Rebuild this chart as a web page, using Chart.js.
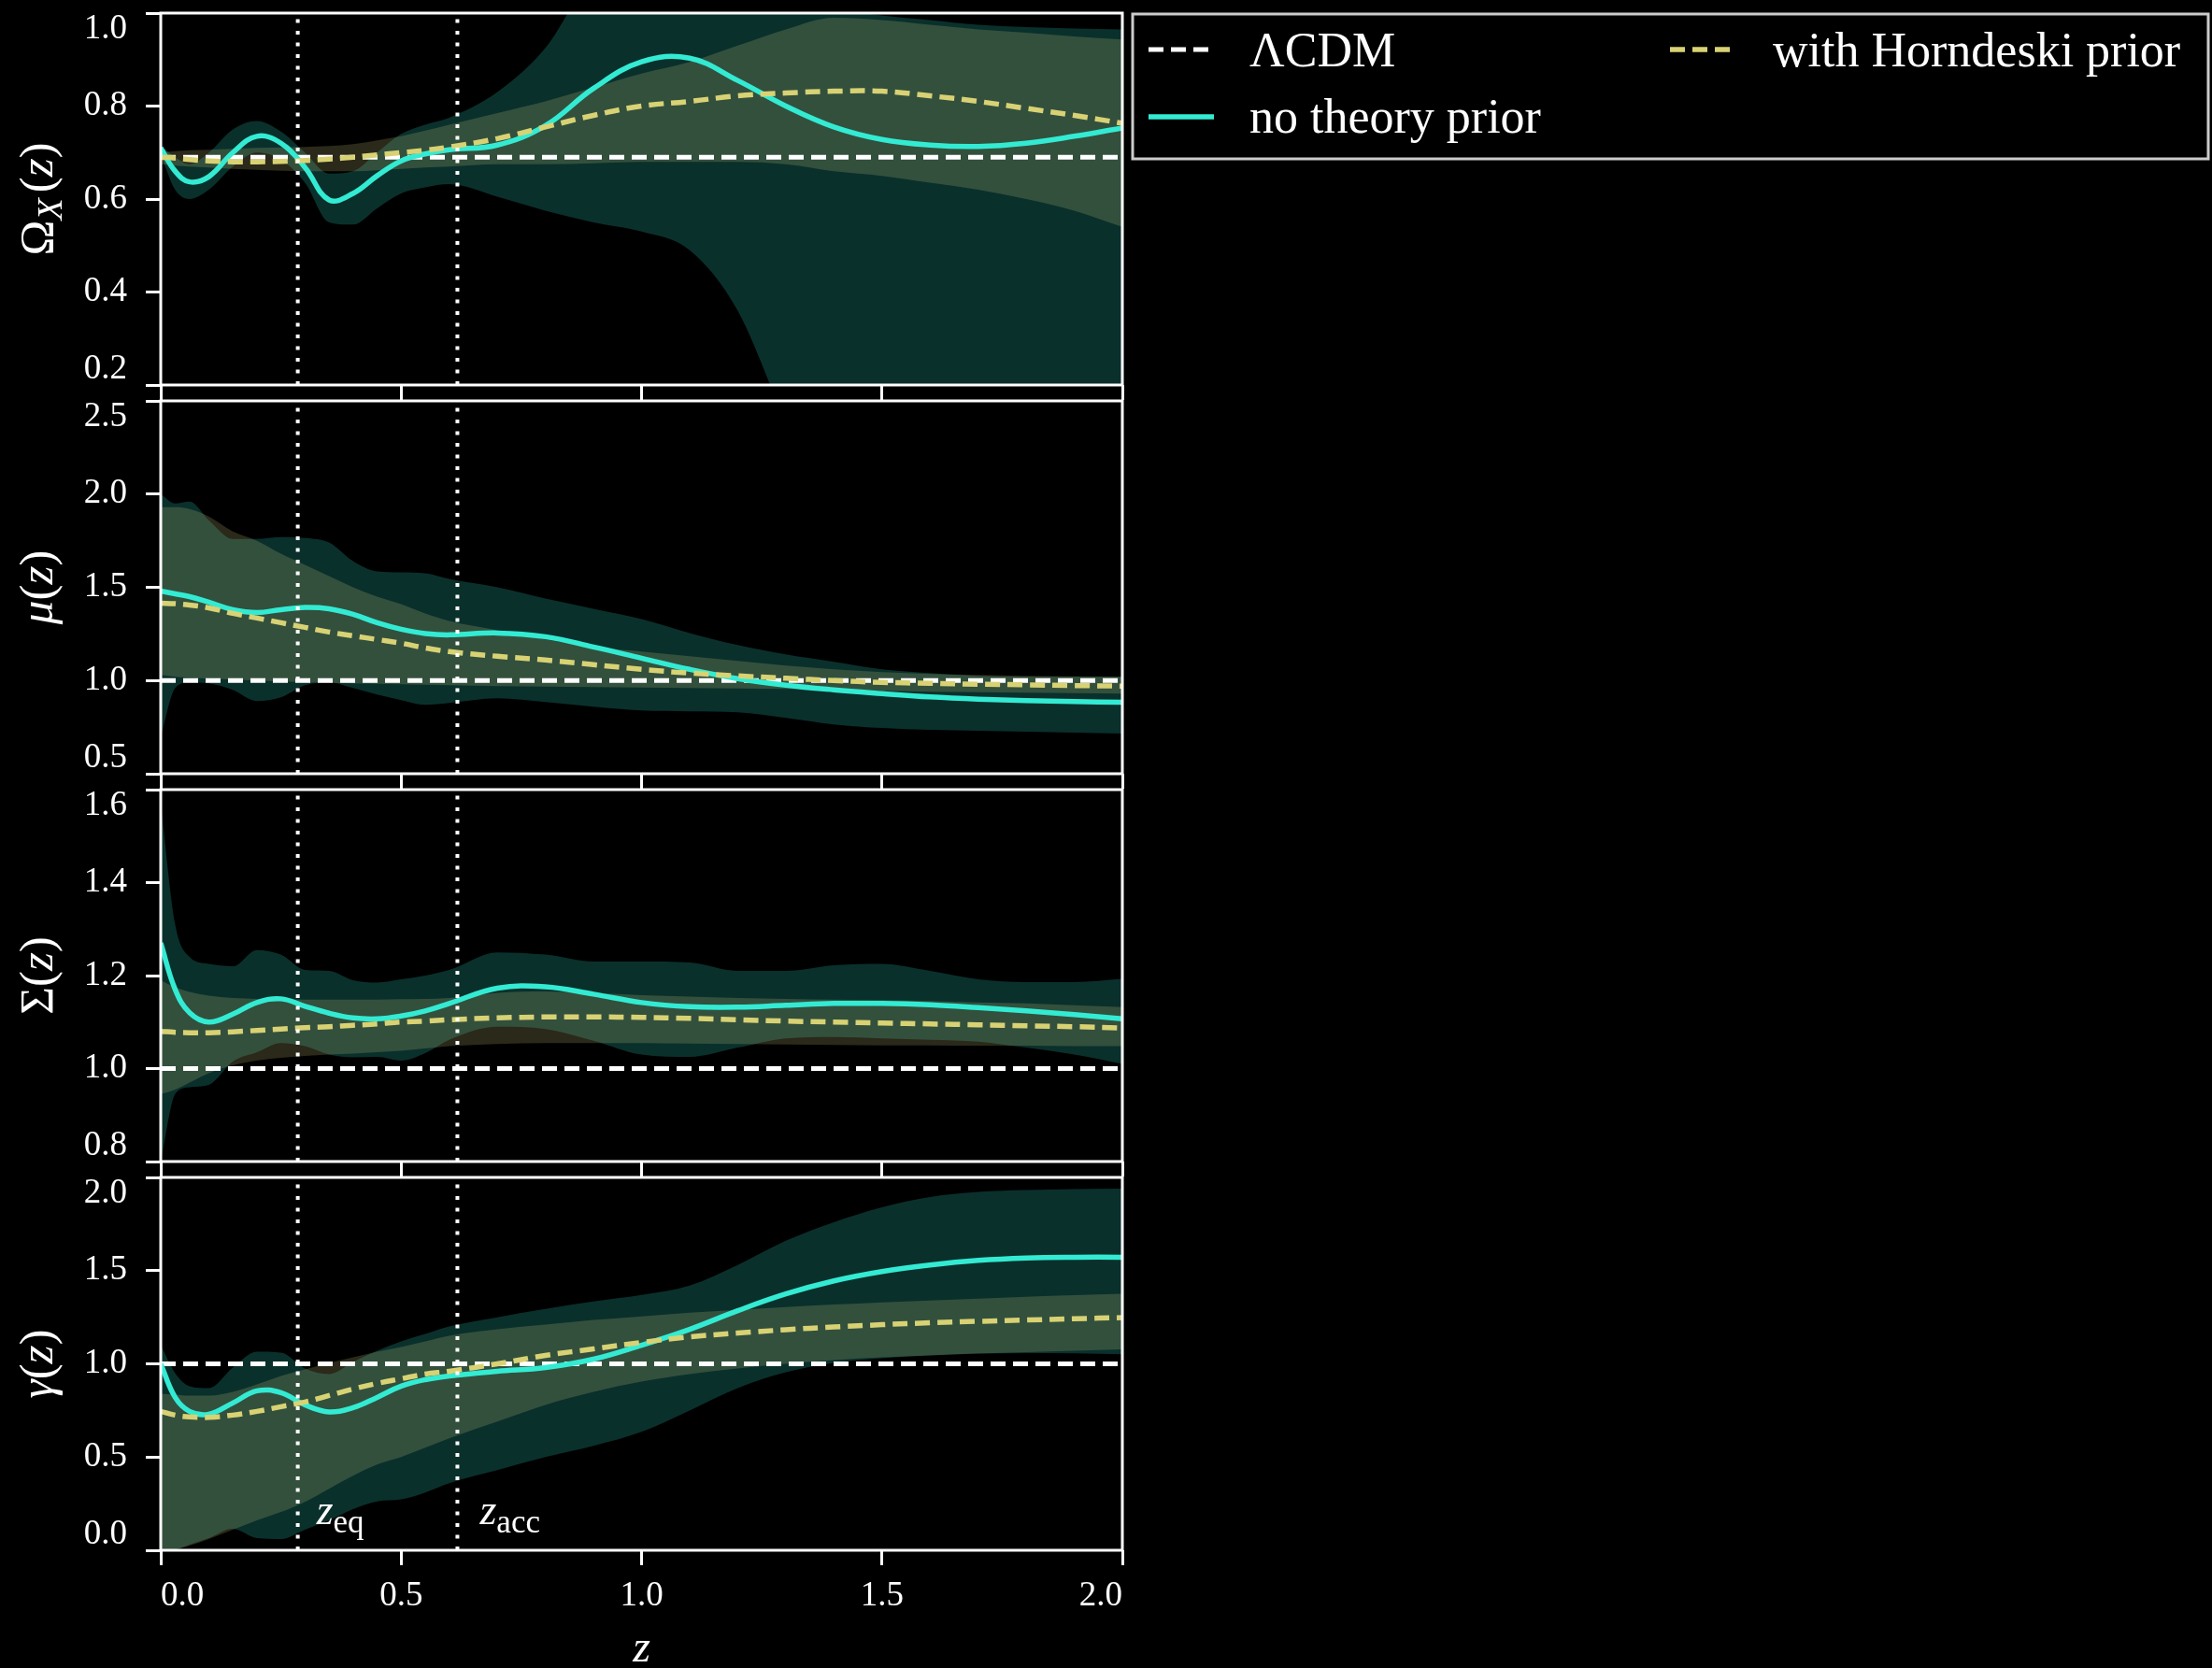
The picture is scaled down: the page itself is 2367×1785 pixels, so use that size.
<!DOCTYPE html>
<html lang="en">
<head>
    <meta charset="UTF-8">
    <title>Reconstructed modified gravity functions</title>
    <script src="https://cdn.jsdelivr.net/npm/chart.js"></script>
    <style>
        body {
            margin: 0;
            background: #000;
            overflow: hidden;
        }
        .wrap {
            position: relative;
            width: 2367px;
            height: 1785px;
        }
        .wrap canvas {
            position: absolute;
            left: 0;
            top: 0;
        }
    </style>
</head>
<body>
    <div class="wrap">
        <canvas id="panel0" width="2367" height="1785"></canvas>
        <canvas id="panel1" width="2367" height="1785"></canvas>
        <canvas id="panel2" width="2367" height="1785"></canvas>
        <canvas id="panel3" width="2367" height="1785"></canvas>
    </div>

    <script>
        // redshift grid shared by every curve
        const z = [0, 0.03, 0.06, 0.1, 0.15, 0.2, 0.25, 0.3, 0.35, 0.4, 0.45, 0.5, 0.55, 0.6,
                   0.7, 0.8, 0.9, 1.0, 1.1, 1.2, 1.3, 1.4, 1.5, 1.6, 1.7, 1.8, 1.9, 2.0];
        const zEq = 0.285;
        const zAcc = 0.617;
        const annotY = 0.14;

        // Omega_X(z)
        const omegaFree   = [0.71, 0.66, 0.637, 0.648, 0.70, 0.735, 0.72, 0.668, 0.598, 0.612, 0.65, 0.682, 0.697, 0.706,
                             0.716, 0.758, 0.838, 0.895, 0.903, 0.855, 0.80, 0.755, 0.728, 0.716, 0.713, 0.72, 0.735, 0.753];
        const omegaFreeHi = [0.715, 0.69, 0.675, 0.70, 0.75, 0.768, 0.745, 0.70, 0.655, 0.66, 0.70, 0.74, 0.76, 0.775,
                             0.83, 0.925, 1.08, 1.12, 1.12, 1.1, 1.05, 1.01, 0.995, 0.985, 0.975, 0.97, 0.967, 0.965];
        const omegaFreeLo = [0.695, 0.62, 0.60, 0.62, 0.67, 0.70, 0.685, 0.635, 0.55, 0.545, 0.58, 0.612, 0.625, 0.632,
                             0.605, 0.575, 0.55, 0.53, 0.49, 0.36, 0.12, -0.1, -0.3, -0.4, -0.5, -0.5, -0.5, -0.5];
        const omegaHorn   = [0.69, 0.688, 0.685, 0.682, 0.68, 0.68, 0.681, 0.683, 0.686, 0.69, 0.695, 0.70, 0.705, 0.712,
                             0.73, 0.755, 0.78, 0.80, 0.81, 0.822, 0.828, 0.832, 0.832, 0.822, 0.81, 0.795, 0.78, 0.763];
        const omegaHornHi = [0.70, 0.703, 0.705, 0.706, 0.708, 0.71, 0.711, 0.712, 0.714, 0.718, 0.726, 0.735, 0.747, 0.76,
                             0.785, 0.81, 0.84, 0.87, 0.895, 0.93, 0.965, 0.99, 0.985, 0.975, 0.965, 0.958, 0.95, 0.943];
        const omegaHornLo = [0.675, 0.672, 0.67, 0.668, 0.665, 0.663, 0.661, 0.66, 0.66, 0.66, 0.662, 0.665, 0.668, 0.67,
                             0.675, 0.675, 0.677, 0.68, 0.68, 0.68, 0.675, 0.66, 0.65, 0.635, 0.62, 0.60, 0.575, 0.54];

        // mu(z)
        const muFree   = [1.48, 1.465, 1.45, 1.42, 1.38, 1.365, 1.38, 1.392, 1.385, 1.355, 1.31, 1.275, 1.252, 1.245,
                          1.255, 1.235, 1.18, 1.12, 1.06, 1.01, 0.975, 0.95, 0.93, 0.912, 0.90, 0.892, 0.887, 0.883];
        const muFreeHi = [2.0, 1.95, 1.96, 1.86, 1.76, 1.76, 1.77, 1.765, 1.74, 1.64, 1.585, 1.58, 1.575, 1.545,
                          1.50, 1.44, 1.385, 1.33, 1.255, 1.19, 1.14, 1.10, 1.06, 1.04, 1.025, 1.02, 1.02, 1.02];
        const muFreeLo = [0.70, 0.96, 0.99, 0.985, 0.95, 0.89, 0.91, 0.975, 0.99, 0.96, 0.925, 0.895, 0.87, 0.88,
                          0.905, 0.885, 0.86, 0.84, 0.835, 0.83, 0.80, 0.765, 0.745, 0.735, 0.73, 0.725, 0.72, 0.715];
        const muHorn   = [1.415, 1.412, 1.405, 1.39, 1.36, 1.335, 1.31, 1.285, 1.26, 1.24, 1.22, 1.20, 1.175, 1.155,
                          1.13, 1.11, 1.085, 1.06, 1.04, 1.025, 1.012, 1.0, 0.99, 0.985, 0.98, 0.977, 0.973, 0.97];
        const muHornHi = [1.93, 1.93, 1.92, 1.88, 1.80, 1.75, 1.68, 1.62, 1.56, 1.50, 1.45, 1.41, 1.36, 1.32,
                          1.27, 1.22, 1.18, 1.155, 1.13, 1.105, 1.08, 1.06, 1.045, 1.035, 1.03, 1.025, 1.022, 1.02];
        const muHornLo = [1.03, 1.02, 1.015, 1.01, 1.005, 1.0, 0.995, 0.99, 0.988, 0.985, 0.982, 0.98, 0.978, 0.975,
                          0.97, 0.968, 0.965, 0.962, 0.96, 0.958, 0.955, 0.95, 0.945, 0.94, 0.937, 0.935, 0.932, 0.93];

        // Sigma(z)
        const sigFree   = [1.27, 1.17, 1.12, 1.10, 1.117, 1.142, 1.15, 1.134, 1.119, 1.109, 1.107, 1.113, 1.124, 1.14,
                           1.173, 1.176, 1.16, 1.142, 1.133, 1.132, 1.136, 1.14, 1.14, 1.137, 1.131, 1.124, 1.116, 1.107];
        const sigFreeHi = [1.57, 1.31, 1.24, 1.225, 1.22, 1.255, 1.245, 1.212, 1.21, 1.19, 1.185, 1.192, 1.20, 1.212,
                           1.25, 1.245, 1.23, 1.23, 1.228, 1.21, 1.21, 1.222, 1.225, 1.21, 1.192, 1.186, 1.186, 1.193];
        const sigFreeLo = [0.80, 0.945, 0.96, 0.965, 1.015, 1.035, 1.055, 1.048, 1.03, 1.024, 1.025, 1.017, 1.033, 1.062,
                           1.09, 1.085, 1.06, 1.03, 1.025, 1.045, 1.065, 1.068, 1.065, 1.062, 1.058, 1.045, 1.03, 1.01];
        const sigHorn   = [1.08, 1.078, 1.077, 1.077, 1.079, 1.082, 1.085, 1.088, 1.09, 1.093, 1.096, 1.10, 1.102, 1.105,
                           1.109, 1.111, 1.111, 1.11, 1.108, 1.105, 1.102, 1.10, 1.098, 1.096, 1.094, 1.092, 1.09, 1.087];
        const sigHornHi = [1.19, 1.175, 1.165, 1.157, 1.152, 1.15, 1.149, 1.148, 1.148, 1.148, 1.148, 1.149, 1.15, 1.152,
                           1.163, 1.166, 1.163, 1.158, 1.155, 1.152, 1.15, 1.148, 1.147, 1.145, 1.142, 1.14, 1.136, 1.132];
        const sigHornLo = [0.945, 0.955, 0.97, 0.99, 1.007, 1.017, 1.023, 1.027, 1.03, 1.032, 1.035, 1.038, 1.043, 1.048,
                           1.053, 1.055, 1.055, 1.055, 1.054, 1.053, 1.052, 1.051, 1.05, 1.05, 1.049, 1.049, 1.048, 1.048];

        // gamma(z)
        const gamFree   = [1.0, 0.82, 0.745, 0.73, 0.79, 0.855, 0.845, 0.78, 0.742, 0.765, 0.82, 0.88, 0.915, 0.935,
                           0.96, 0.98, 1.025, 1.1, 1.185, 1.285, 1.375, 1.445, 1.495, 1.53, 1.555, 1.568, 1.572, 1.572];
        const gamFreeHi = [1.1, 0.95, 0.88, 0.87, 0.98, 1.065, 1.06, 0.975, 0.945, 1.01, 1.07, 1.12, 1.16, 1.20,
                           1.25, 1.295, 1.335, 1.37, 1.42, 1.53, 1.66, 1.76, 1.84, 1.895, 1.922, 1.932, 1.937, 1.94];
        const gamFreeLo = [-0.02, 0.0, 0.03, 0.065, 0.115, 0.065, 0.06, 0.11, 0.16, 0.22, 0.262, 0.273, 0.31, 0.36,
                           0.43, 0.5, 0.56, 0.635, 0.75, 0.87, 0.955, 1.005, 1.03, 1.045, 1.055, 1.058, 1.056, 1.052];
        const gamHorn   = [0.745, 0.725, 0.715, 0.713, 0.725, 0.745, 0.77, 0.795, 0.83, 0.865, 0.895, 0.92, 0.945, 0.96,
                           1.0, 1.045, 1.08, 1.115, 1.145, 1.165, 1.183, 1.198, 1.21, 1.22, 1.228, 1.235, 1.242, 1.248];
        const gamHornHi = [0.84, 0.835, 0.83, 0.83, 0.85, 0.89, 0.935, 0.97, 1.005, 1.035, 1.065, 1.09, 1.12, 1.15,
                           1.185, 1.21, 1.235, 1.255, 1.275, 1.29, 1.305, 1.318, 1.33, 1.34, 1.35, 1.36, 1.368, 1.376];
        const gamHornLo = [0.0, 0.005, 0.025, 0.06, 0.11, 0.16, 0.205, 0.26, 0.33, 0.4, 0.46, 0.5, 0.55, 0.6,
                           0.69, 0.78, 0.85, 0.905, 0.945, 0.975, 1.0, 1.02, 1.035, 1.045, 1.055, 1.063, 1.07, 1.078];

        // LCDM reference value and y axis of each panel
        const lcdm = [0.69, 1.0, 1.0, 1.0];
        const yMin = [0.2, 0.5, 0.8, 0.0];
        const yMax = [1.0, 2.5, 1.6, 2.0];
        const yStep = [0.2, 0.5, 0.2, 0.5];
        const xMin = 0, xMax = 2.0, xStep = 0.5;

        const legendLabels = ['ΛCDM', 'no theory prior', 'with Horndeski prior'];
        // [text, italic, subscript]
        const yTitles = [
            [['Ω'], ['X', true, true], ['('], ['z', true], [')']],
            [['μ', true], ['('], ['z', true], [')']],
            [['Σ'], ['('], ['z', true], [')']],
            [['γ', true], ['('], ['z', true], [')']]
        ];

        const panels = [
            { free: omegaFree, freeHi: omegaFreeHi, freeLo: omegaFreeLo, horn: omegaHorn, hornHi: omegaHornHi, hornLo: omegaHornLo },
            { free: muFree, freeHi: muFreeHi, freeLo: muFreeLo, horn: muHorn, hornHi: muHornHi, hornLo: muHornLo },
            { free: sigFree, freeHi: sigFreeHi, freeLo: sigFreeLo, horn: sigHorn, hornHi: sigHornHi, hornLo: sigHornLo },
            { free: gamFree, freeHi: gamFreeHi, freeLo: gamFreeLo, horn: gamHorn, hornHi: gamHornHi, hornLo: gamHornLo }
        ];

        // look
        const SERIF = '"Liberation Serif", "Times New Roman", serif';
        const FREE = '#33ebd3';
        const HORN = '#d8d274';
        const FREE_BAND = 'rgba(50, 240, 222, 0.2)';
        const HORN_BAND = 'rgba(240, 230, 140, 0.18)';
        const W = 2367, H = 1785;
        const areaLeft = 172, areaRight = 1201;
        const areaTop = [14, 429, 845, 1260];
        const areaBottom = [412, 828, 1243, 1659];
        const tickLen = 16;

        Chart.defaults.font.family = SERIF;
        Chart.defaults.color = '#fff';

        const pts = ys => z.map((x, i) => ({ x: x, y: ys[i] }));

        // italic/upright pieces with subscripts, drawn one after the other
        function drawRich(ctx, parts, x, y, size, align) {
            const fontOf = p => (p[1] ? 'italic ' : '') + (p[2] ? Math.round(size * 0.75) : size) + 'px ' + SERIF;
            const widths = parts.map(p => { ctx.font = fontOf(p); return ctx.measureText(p[0]).width + (p[2] ? size * 0.12 : 0); });
            let cx = align === 'center' ? x - widths.reduce((s, w) => s + w, 0) / 2 : x;
            ctx.textAlign = 'left';
            parts.forEach((p, k) => {
                ctx.font = fontOf(p);
                ctx.fillText(p[0], cx, y + (p[2] ? size * 0.2 : 0));
                cx += widths[k];
            });
        }

        function drawLegend(chart) {
            const ctx = chart.ctx;
            const find = l => chart.data.datasets.find(d => d.label === l);
            ctx.save();
            ctx.fillStyle = '#000';
            ctx.fillRect(1212, 15, 1151, 155);
            ctx.strokeStyle = '#cccccc';
            ctx.lineWidth = 3;
            ctx.strokeRect(1212, 15, 1151, 155);
            const slots = [[1229, 53, 1337, 71], [1229, 125, 1337, 142], [1787, 53, 1897, 71]];
            legendLabels.forEach((label, k) => {
                const d = find(label);
                const [hx, hy, tx, ty] = slots[k];
                ctx.strokeStyle = d.borderColor;
                ctx.lineWidth = d.borderWidth;
                ctx.setLineDash(d.borderDash || []);
                ctx.beginPath();
                ctx.moveTo(hx, hy);
                ctx.lineTo(hx + 70, hy);
                ctx.stroke();
                ctx.setLineDash([]);
                ctx.fillStyle = '#fff';
                ctx.textAlign = 'left';
                ctx.textBaseline = 'alphabetic';
                ctx.font = '52px ' + SERIF;
                ctx.fillText(label, tx, ty);
            });
            ctx.restore();
        }

        const decor = {
            id: 'decor',
            afterDraw(chart, args, opts) {
                const { ctx, chartArea: a, scales } = chart;
                ctx.save();
                ctx.strokeStyle = '#fff';
                ctx.lineWidth = 3;
                ctx.strokeRect(a.left, a.top, a.right - a.left, a.bottom - a.top);
                ctx.fillStyle = '#fff';
                ctx.textBaseline = 'alphabetic';
                ctx.translate(56, (a.top + a.bottom) / 2);
                ctx.rotate(-Math.PI / 2);
                drawRich(ctx, opts.title, 0, 0, 51, 'center');
                ctx.restore();

                if (opts.marks) {
                    const yb = scales.y.getPixelForValue(annotY);
                    ctx.save();
                    ctx.fillStyle = '#fff';
                    ctx.textBaseline = 'alphabetic';
                    drawRich(ctx, [['z', true], ['eq', false, true]], scales.x.getPixelForValue(zEq) + 20, yb, 46, 'left');
                    drawRich(ctx, [['z', true], ['acc', false, true]], scales.x.getPixelForValue(zAcc) + 24, yb, 46, 'left');
                    ctx.restore();
                }
                if (opts.legend) drawLegend(chart);
            }
        };

        // matplotlib-like inward first/last tick labels on the y axis
        function innerLabel(v, i, ticks) {
            const s = v.toFixed(1);
            if (i === 0) return [s, ''];
            if (i === ticks.length - 1) return ['', s];
            return s;
        }

        function makeDatasets(p, i) {
            const vline = x => ({
                data: [{ x: x, y: yMin[i] }, { x: x, y: yMax[i] }],
                borderColor: '#fff', borderWidth: 4, borderDash: [4, 8.5],
                tension: 0, cubicInterpolationMode: 'default'
            });
            return [
                vline(zEq),
                vline(zAcc),
                { label: legendLabels[2], data: pts(p.horn), borderColor: HORN, borderWidth: 5.5, borderDash: [16, 8],
                  cubicInterpolationMode: 'default', tension: 0.4 },
                { label: legendLabels[1], data: pts(p.free), borderColor: FREE, borderWidth: 5.5,
                  cubicInterpolationMode: 'default', tension: 0.4 },
                { label: legendLabels[0], data: [{ x: xMin, y: lcdm[i] }, { x: xMax, y: lcdm[i] }],
                  borderColor: '#fff', borderWidth: 5, borderDash: [16, 8], tension: 0, cubicInterpolationMode: 'default' },
                { data: pts(p.hornHi), fill: '+1', backgroundColor: HORN_BAND, borderColor: 'transparent', borderWidth: 0 },
                { data: pts(p.hornLo), borderColor: 'transparent', borderWidth: 0 },
                { data: pts(p.freeHi), fill: '+1', backgroundColor: FREE_BAND, borderColor: 'transparent', borderWidth: 0 },
                { data: pts(p.freeLo), borderColor: 'transparent', borderWidth: 0 }
            ];
        }

        panels.forEach((p, i) => {
            const last = i === panels.length - 1;
            const xAxisH = last ? H - areaBottom[i] : tickLen;
            new Chart(document.getElementById('panel' + i), {
                type: 'line',
                data: { datasets: makeDatasets(p, i) },
                options: {
                    responsive: false,
                    animation: false,
                    events: [],
                    devicePixelRatio: 1,
                    layout: {
                        padding: { left: 0, top: areaTop[i], right: W - areaRight, bottom: H - areaBottom[i] - xAxisH }
                    },
                    elements: {
                        point: { radius: 0 },
                        line: { cubicInterpolationMode: 'monotone', fill: false }
                    },
                    plugins: {
                        legend: { display: false },
                        tooltip: { enabled: false },
                        decor: { title: yTitles[i], legend: i === 0, marks: last }
                    },
                    scales: {
                        x: {
                            type: 'linear',
                            min: xMin,
                            max: xMax,
                            border: { display: false },
                            grid: { drawOnChartArea: false, color: '#fff', lineWidth: 3, tickLength: tickLen },
                            ticks: {
                                display: last, stepSize: xStep, align: 'inner', padding: 11,
                                color: '#fff', font: { size: 37 }, callback: v => v.toFixed(1)
                            },
                            title: {
                                display: last, text: 'z', color: '#fff', padding: 0,
                                font: { size: 48, style: 'italic', lineHeight: 0.83 }
                            },
                            afterFit: s => { s.height = xAxisH; s.paddingLeft = 0; s.paddingRight = 0; }
                        },
                        y: {
                            min: yMin[i],
                            max: yMax[i],
                            border: { display: false },
                            grid: { drawOnChartArea: false, color: '#fff', lineWidth: 3, tickLength: tickLen },
                            ticks: {
                                stepSize: yStep[i], autoSkip: false, padding: 20, color: '#fff',
                                font: { size: 37, lineHeight: 0.92 }, callback: innerLabel
                            },
                            afterFit: s => { s.width = areaLeft; s.paddingTop = 0; s.paddingBottom = 0; }
                        }
                    }
                },
                plugins: [decor]
            });
        });
    </script>
</body>
</html>
